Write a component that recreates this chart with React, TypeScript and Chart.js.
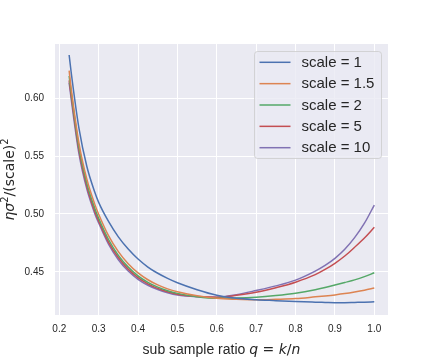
import React, { useEffect, useRef } from "react";
import { Chart, registerables } from "chart.js";

Chart.register(...registerables);

const qValues = [0.225, 0.23, 0.25, 0.27, 0.29, 0.3, 0.325, 0.35, 0.375, 0.4, 0.425, 0.45, 0.475, 0.5, 0.55, 0.6, 0.65, 0.7, 0.75, 0.8, 0.85, 0.875, 0.9, 0.925, 0.95, 0.975, 1.0];

const scale1 = [0.6375, 0.623, 0.574, 0.541, 0.519, 0.51, 0.4935, 0.4802, 0.4696, 0.461, 0.4541, 0.4487, 0.4443, 0.4405, 0.4345, 0.4297, 0.427, 0.4258, 0.425, 0.4242, 0.4237, 0.4235, 0.4233, 0.4233, 0.4235, 0.4237, 0.424];
const scale15 = [0.6239, 0.609, 0.561, 0.53, 0.5085, 0.4998, 0.4813, 0.4674, 0.4569, 0.449, 0.4431, 0.4386, 0.4352, 0.4327, 0.4292, 0.427, 0.4262, 0.4258, 0.4262, 0.4268, 0.4283, 0.4291, 0.43, 0.4311, 0.4325, 0.4341, 0.436];
const scale2 = [0.6193, 0.606, 0.5575, 0.5265, 0.505, 0.4963, 0.4779, 0.4642, 0.4541, 0.4465, 0.4409, 0.4367, 0.4336, 0.4313, 0.4283, 0.427, 0.4272, 0.428, 0.4295, 0.4315, 0.4345, 0.4364, 0.4385, 0.4407, 0.443, 0.4458, 0.4491];
const scale5 = [0.6155, 0.603, 0.555, 0.524, 0.5025, 0.494, 0.4757, 0.4623, 0.4523, 0.445, 0.4396, 0.4356, 0.4327, 0.4305, 0.4285, 0.4279, 0.4296, 0.4322, 0.4362, 0.441, 0.4475, 0.452, 0.4573, 0.4636, 0.4712, 0.4792, 0.4884];
const scale10 = [0.6135, 0.6, 0.552, 0.5215, 0.5005, 0.4922, 0.4738, 0.4604, 0.4506, 0.4435, 0.4383, 0.4346, 0.4318, 0.4298, 0.4283, 0.428, 0.4302, 0.4338, 0.4378, 0.4428, 0.4506, 0.4555, 0.4616, 0.4695, 0.4795, 0.492, 0.5077];

const seriesLabels = ["scale = 1", "scale = 1.5", "scale = 2", "scale = 5", "scale = 10"];
const seriesColors = ["#4C72B0", "#DD8452", "#55A868", "#C44E52", "#8172B3"];
const seriesValues = [scale1, scale15, scale2, scale5, scale10];

const xTicks = [0.2, 0.3, 0.4, 0.5, 0.6, 0.7, 0.8, 0.9, 1.0];
const yTicks = [0.45, 0.5, 0.55, 0.6];

const TEXT = "#262626";
const SANS = "'Liberation Sans', Arial, sans-serif";
const MATH = "'DejaVu Sans', sans-serif";

function drawSegments(ctx: CanvasRenderingContext2D, segs: { t: string; f: string; dy?: number }[], cx: number, cy: number) {
  let total = 0;
  for (const s of segs) {
    ctx.font = s.f;
    total += ctx.measureText(s.t).width;
  }
  let x = cx - total / 2;
  ctx.textBaseline = "alphabetic";
  ctx.textAlign = "left";
  for (const s of segs) {
    ctx.font = s.f;
    ctx.fillText(s.t, x, cy + (s.dy || 0));
    x += ctx.measureText(s.t).width;
  }
}

const decorPlugin = {
  id: "decor",
  beforeDraw(chart: any) {
    const { ctx, chartArea } = chart;
    ctx.save();
    ctx.fillStyle = "#EAEAF2";
    ctx.fillRect(chartArea.left, chartArea.top, chartArea.right - chartArea.left, chartArea.bottom - chartArea.top);
    ctx.restore();
  },
  afterDraw(chart: any) {
    const { ctx, chartArea } = chart;
    ctx.save();
    ctx.fillStyle = TEXT;
    const cx = (chartArea.left + chartArea.right) / 2;
    drawSegments(
      ctx,
      [
        { t: "sub sample ratio ", f: `14px ${SANS}` },
        { t: "q", f: `italic 14px ${MATH}` },
        { t: " = ", f: `14px ${MATH}` },
        { t: "k", f: `italic 14px ${MATH}` },
        { t: "/", f: `14px ${MATH}` },
        { t: "n", f: `italic 14px ${MATH}` },
      ],
      cx,
      354
    );
    const cy = (chartArea.top + chartArea.bottom) / 2;
    ctx.save();
    ctx.translate(14, cy);
    ctx.rotate(-Math.PI / 2);
    drawSegments(
      ctx,
      [
        { t: "ησ", f: `italic 14px ${MATH}` },
        { t: "2", f: `10px ${MATH}`, dy: -6 },
        { t: "/(scale)", f: `14px ${MATH}` },
        { t: "2", f: `10px ${MATH}`, dy: -6 },
      ],
      0,
      0
    );
    ctx.restore();

    const bx = 254.5, by = 51.5, bw = 127, bh = 107, r = 3;
    ctx.beginPath();
    ctx.moveTo(bx + r, by);
    ctx.lineTo(bx + bw - r, by);
    ctx.arcTo(bx + bw, by, bx + bw, by + r, r);
    ctx.lineTo(bx + bw, by + bh - r);
    ctx.arcTo(bx + bw, by + bh, bx + bw - r, by + bh, r);
    ctx.lineTo(bx + r, by + bh);
    ctx.arcTo(bx, by + bh, bx, by + bh - r, r);
    ctx.lineTo(bx, by + r);
    ctx.arcTo(bx, by, bx + r, by, r);
    ctx.closePath();
    ctx.fillStyle = "rgba(234,234,242,0.8)";
    ctx.fill();
    ctx.strokeStyle = "rgba(204,204,204,0.8)";
    ctx.lineWidth = 1;
    ctx.stroke();
    for (let i = 0; i < seriesLabels.length; i++) {
      const ly = 62.3 + i * 21.35;
      ctx.beginPath();
      ctx.moveTo(259.5, ly);
      ctx.lineTo(290.5, ly);
      ctx.strokeStyle = seriesColors[i];
      ctx.lineWidth = 1.5;
      ctx.stroke();
      ctx.fillStyle = TEXT;
      ctx.font = `15px ${SANS}`;
      ctx.textAlign = "left";
      ctx.textBaseline = "middle";
      ctx.fillText(seriesLabels[i], 301.5, ly + 0.5);
    }
    ctx.restore();
  },
};

export default function App() {
  const ref = useRef<HTMLCanvasElement | null>(null);
  useEffect(() => {
    if (!ref.current) return;
    const datasets = seriesValues.map((vals, i) => ({
      label: seriesLabels[i],
      data: qValues.map((q, j) => ({ x: q, y: vals[j] })),
      borderColor: seriesColors[i],
      backgroundColor: seriesColors[i],
      borderWidth: 1.5,
      pointRadius: 0,
      cubicInterpolationMode: "monotone" as const,
      fill: false,
    }));
    const chart = new Chart(ref.current, {
      type: "line",
      data: { datasets },
      options: {
        animation: false,
        responsive: false,
        maintainAspectRatio: false,
        layout: { padding: { top: 44, right: 44, left: 0, bottom: 0 } },
        plugins: { legend: { display: false }, tooltip: { enabled: false } },
        scales: {
          x: {
            type: "linear",
            min: 0.1891,
            max: 1.0348,
            afterFit: (s: any) => {
              s.height = 45;
            },
            afterBuildTicks: (s: any) => {
              s.ticks = xTicks.map((v) => ({ value: v }));
            },
            ticks: {
              color: TEXT,
              font: { family: SANS, size: 10 },
              padding: 8,
              maxRotation: 0,
              autoSkip: false,
              callback: (v: any) => Number(v).toFixed(1),
            },
            grid: { color: "#FFFFFF", lineWidth: 1, drawTicks: false },
            border: { display: false },
          },
          y: {
            type: "linear",
            min: 0.4126,
            max: 0.647,
            afterFit: (s: any) => {
              s.width = 55;
            },
            afterBuildTicks: (s: any) => {
              s.ticks = yTicks.map((v) => ({ value: v }));
            },
            ticks: {
              color: TEXT,
              font: { family: SANS, size: 10 },
              padding: 11,
              autoSkip: false,
              callback: (v: any) => Number(v).toFixed(2),
            },
            grid: { color: "#FFFFFF", lineWidth: 1, drawTicks: false },
            border: { display: false },
          },
        },
      },
      plugins: [decorPlugin],
    });
    return () => chart.destroy();
  }, []);
  return (
    <div style={{ position: "fixed", left: 0, top: 0, width: 432, height: 360, background: "#FFFFFF" }}>
      <canvas ref={ref} width={432} height={360} style={{ width: 432, height: 360, display: "block" }} />
    </div>
  );
}
